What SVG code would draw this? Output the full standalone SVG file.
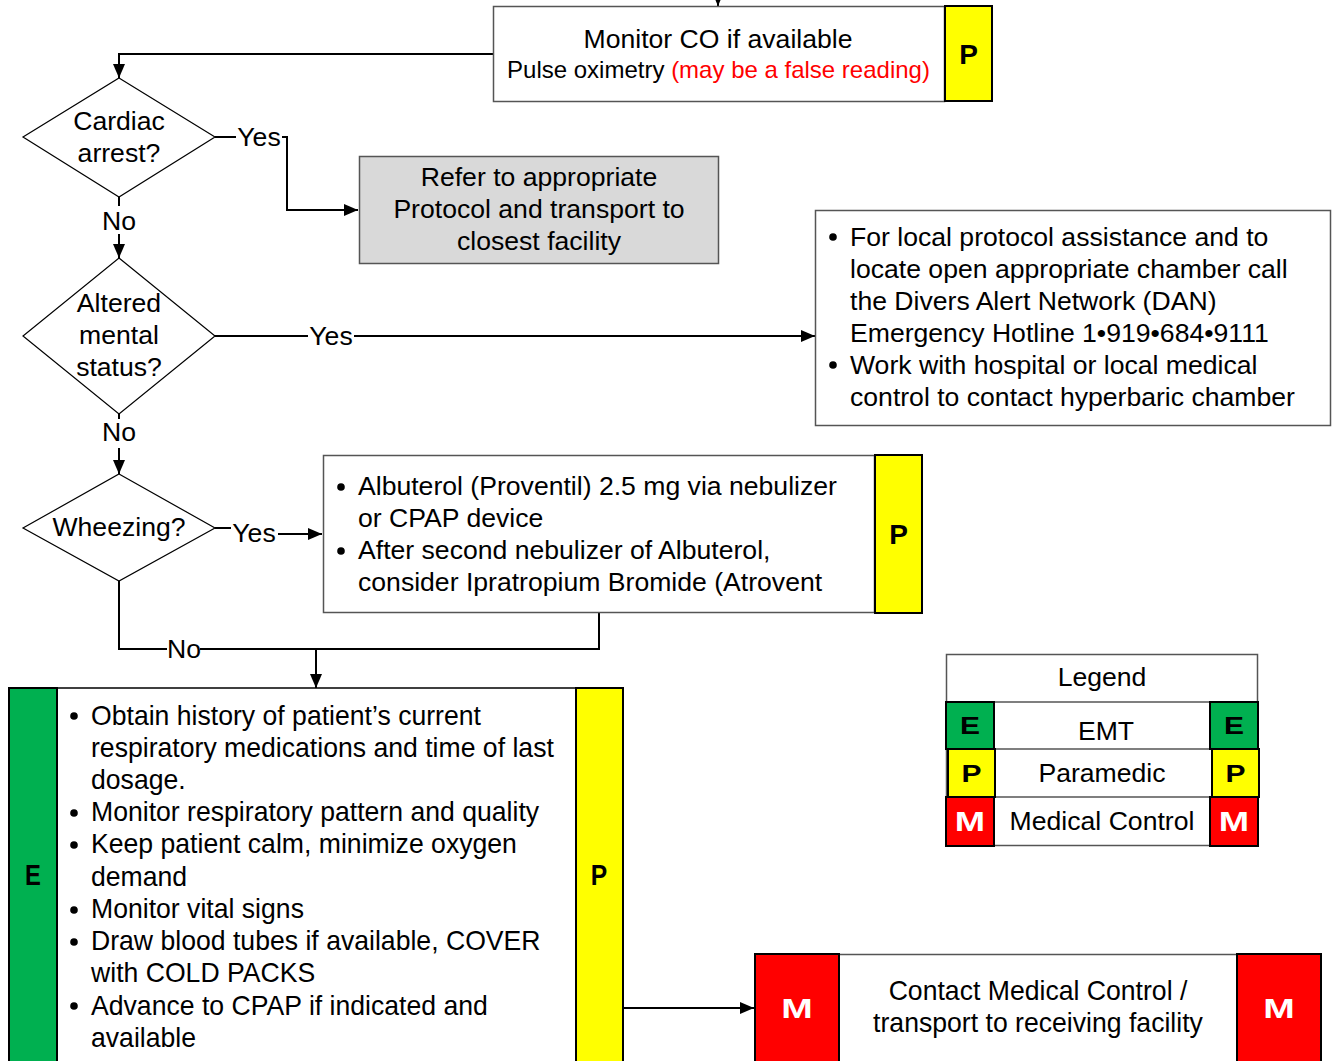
<svg xmlns="http://www.w3.org/2000/svg" width="1332" height="1061" viewBox="0 0 1332 1061">
  <style>
    text { font-family: "Liberation Sans", Arial, sans-serif; font-size: 26.6px; fill: #000; }
    .c { text-anchor: middle; }
    .red { fill: #ff0000; }
    .box { fill: #fff; stroke: #555; stroke-width: 1.5; }
    .grey { fill: #d9d9d9; stroke: #555; stroke-width: 1.5; }
    .dia { fill: #fff; stroke: #000; stroke-width: 1.2; }
    .yel { fill: #ffff00; stroke: #000; stroke-width: 2; }
    .grn { fill: #00b050; stroke: #000; stroke-width: 2; }
    .rd { fill: #ff0000; stroke: #000; stroke-width: 2; }
    .tag { font-weight: bold; text-anchor: middle; font-size: 28px; }
    .tagw { font-weight: bold; text-anchor: middle; font-size: 28px; fill: #fff; }
    .ln { fill: none; stroke: #000; stroke-width: 2; }
    .arr { fill: none; stroke: #000; stroke-width: 2; marker-end: url(#ah); }
    .dot { fill: #000; }
    .tall { font-size: 28.5px; }
  </style>
  <defs>
    <marker id="ah" viewBox="0 0 14 12" refX="14" refY="6" markerWidth="14" markerHeight="12" markerUnits="userSpaceOnUse" orient="auto">
      <path d="M0,0 L14,6 L0,12 z" fill="#000"/>
    </marker>
  </defs>

  <!-- connectors -->
  <g id="connectors">
    <path class="arr" d="M718,-10 V6"/>
    <path class="arr" d="M493,54 H119 V78"/>
    <!-- cardiac arrest: yes -->
    <path class="ln" d="M215,137 H236"/>
    <text class="c" x="259" y="146">Yes</text>
    <path class="arr" d="M282,137 H287 V210 H358"/>
    <!-- cardiac arrest: no -->
    <path class="ln" d="M119,197 V206"/>
    <text class="c" x="119" y="230">No</text>
    <path class="arr" d="M119,234 V258"/>
    <!-- altered mental status: yes -->
    <path class="ln" d="M215,336 H308"/>
    <text class="c" x="331" y="345">Yes</text>
    <path class="arr" d="M354,336 H815"/>
    <!-- altered mental status: no -->
    <path class="ln" d="M119,414 V419"/>
    <text class="c" x="119" y="441">No</text>
    <path class="arr" d="M119,448 V474"/>
    <!-- wheezing: yes -->
    <path class="ln" d="M215,528 H231"/>
    <text class="c" x="254" y="542">Yes</text>
    <path class="arr" d="M278,534 H322"/>
    <!-- wheezing: no, merging with treatment box -->
    <path class="ln" d="M119,581 V649 H167"/>
    <text class="c" x="184" y="658">No</text>
    <path class="ln" d="M200,649 H599 V613"/>
    <path class="arr" d="M316,649 V688"/>
    <!-- to medical control -->
    <path class="arr" d="M623,1008 H754"/>
  </g>

  <!-- monitor CO -->
  <g id="monitor-co">
    <rect class="box" x="493.5" y="6.5" width="451" height="95"/>
    <rect class="yel" x="945" y="6" width="47" height="95"/>
    <text class="c" x="718" y="47.5">Monitor CO if available</text>
    <text class="c" x="718.5" y="78" style="font-size:24px">Pulse oximetry <tspan class="red">(may be a false reading)</tspan></text>
    <text class="tag" x="968.5" y="64">P</text>
  </g>

  <!-- cardiac arrest decision -->
  <g id="cardiac-arrest">
    <polygon class="dia" points="119,78 215,137 119,197 23,137"/>
    <text class="c" x="119" y="130">Cardiac</text>
    <text class="c" x="119" y="162">arrest?</text>
  </g>

  <!-- refer to protocol -->
  <g id="refer">
    <rect class="grey" x="359.5" y="156.5" width="359" height="107"/>
    <text class="c" x="539" y="186">Refer to appropriate</text>
    <text class="c" x="539" y="218">Protocol and transport to</text>
    <text class="c" x="539" y="250">closest facility</text>
  </g>

  <!-- altered mental status decision -->
  <g id="altered-mental-status">
    <polygon class="dia" points="119,258 215,336 119,414 23,336"/>
    <text class="c" x="119" y="312">Altered</text>
    <text class="c" x="119" y="344">mental</text>
    <text class="c" x="119" y="376">status?</text>
  </g>

  <!-- DAN hotline -->
  <g id="dan">
    <rect class="box" x="815.5" y="210.5" width="515" height="215"/>
    <circle class="dot" cx="833" cy="237" r="3.8"/>
    <circle class="dot" cx="833" cy="365" r="3.8"/>
    <text x="850" y="246">For local protocol assistance and to</text>
    <text x="850" y="278">locate open appropriate chamber call</text>
    <text x="850" y="310">the Divers Alert Network (DAN)</text>
    <text x="850" y="342">Emergency Hotline 1•919•684•9111</text>
    <text x="850" y="374">Work with hospital or local medical</text>
    <text x="850" y="406">control to contact hyperbaric chamber</text>
  </g>

  <!-- wheezing decision -->
  <g id="wheezing">
    <polygon class="dia" points="119,474 215,528 119,581 23,528"/>
    <text class="c" x="119" y="536">Wheezing?</text>
  </g>

  <!-- albuterol -->
  <g id="albuterol">
    <rect class="box" x="323.5" y="455.5" width="551" height="157"/>
    <rect class="yel" x="875" y="455" width="47" height="158"/>
    <circle class="dot" cx="341" cy="487" r="3.8"/>
    <circle class="dot" cx="341" cy="551" r="3.8"/>
    <text x="358" y="495">Albuterol (Proventil) 2.5 mg via nebulizer</text>
    <text x="358" y="527">or CPAP device</text>
    <text x="358" y="559">After second nebulizer of Albuterol,</text>
    <text x="358" y="591">consider Ipratropium Bromide (Atrovent</text>
    <text class="tag" x="898.5" y="544">P</text>
  </g>

  <!-- supportive care -->
  <g id="supportive-care">
    <rect class="box" x="57" y="688" width="519" height="390" style="stroke:#000"/>
    <rect class="grn" x="9" y="688" width="48" height="390"/>
    <rect class="yel" x="576" y="688" width="47" height="390"/>
    <text class="tag" transform="translate(33,885) scale(0.82,1)" style="font-size:29px">E</text>
    <text class="tag" transform="translate(599,885) scale(0.85,1)" style="font-size:29px">P</text>
    <circle class="dot" cx="74" cy="716" r="3.8"/>
    <circle class="dot" cx="74" cy="813" r="3.8"/>
    <circle class="dot" cx="74" cy="845" r="3.8"/>
    <circle class="dot" cx="74" cy="910" r="3.8"/>
    <circle class="dot" cx="74" cy="942" r="3.8"/>
    <circle class="dot" cx="74" cy="1006" r="3.8"/>
    <g transform="translate(91,0) scale(0.934,1)">
      <text class="tall" x="0" y="725">Obtain history of patient’s current</text>
      <text class="tall" x="0" y="757">respiratory medications and time of last</text>
      <text class="tall" x="0" y="789">dosage.</text>
      <text class="tall" x="0" y="821.5">Monitor respiratory pattern and quality</text>
      <text class="tall" x="0" y="853.5">Keep patient calm, minimize oxygen</text>
      <text class="tall" x="0" y="886">demand</text>
      <text class="tall" x="0" y="918">Monitor vital signs</text>
      <text class="tall" x="0" y="950.5">Draw blood tubes if available, COVER</text>
      <text class="tall" x="0" y="982.5">with COLD PACKS</text>
      <text class="tall" x="0" y="1015">Advance to CPAP if indicated and</text>
      <text class="tall" x="0" y="1047">available</text>
    </g>
  </g>

  <!-- contact medical control -->
  <g id="medical-control">
    <rect class="box" x="839" y="954.5" width="398" height="120"/>
    <rect class="rd" x="755" y="954" width="84" height="120"/>
    <rect class="rd" x="1237" y="954" width="84" height="120"/>
    <text class="tagw" transform="translate(797,1018) scale(1.35,1)">M</text>
    <text class="tagw" transform="translate(1279,1018) scale(1.35,1)">M</text>
    <g transform="translate(1038,0) scale(0.934,1)">
      <text class="c tall" x="0" y="1000">Contact Medical Control /</text>
      <text class="c tall" x="0" y="1032">transport to receiving facility</text>
    </g>
  </g>

  <!-- legend -->
  <g id="legend">
    <rect class="box" x="946.5" y="654.5" width="311" height="191"/>
    <text class="c" x="1102" y="686">Legend</text>
    <path d="M946,702 H1258 M946,749 H1258 M946,797 H1258" stroke="#555" stroke-width="1.5"/>
    <rect class="grn" x="946" y="702" width="48" height="47"/>
    <rect class="grn" x="1210" y="702" width="48" height="47"/>
    <rect class="yel" x="948" y="749" width="47" height="48"/>
    <rect class="yel" x="1212" y="749" width="47" height="48"/>
    <rect class="rd" x="946" y="797" width="48" height="49"/>
    <rect class="rd" x="1210" y="797" width="48" height="49"/>
    <text class="tag" transform="translate(970,734) scale(1.25,1)" style="font-size:24px">E</text>
    <text class="tag" transform="translate(1234,734) scale(1.25,1)" style="font-size:24px">E</text>
    <text class="tag" transform="translate(971.5,782) scale(1.25,1)" style="font-size:24px">P</text>
    <text class="tag" transform="translate(1235.5,782) scale(1.25,1)" style="font-size:24px">P</text>
    <text class="tagw" transform="translate(970,831) scale(1.3,1)">M</text>
    <text class="tagw" transform="translate(1234,831) scale(1.3,1)">M</text>
    <text class="c" x="1106" y="740">EMT</text>
    <text class="c" x="1102" y="782">Paramedic</text>
    <text class="c" x="1102" y="830">Medical Control</text>
  </g>
</svg>
